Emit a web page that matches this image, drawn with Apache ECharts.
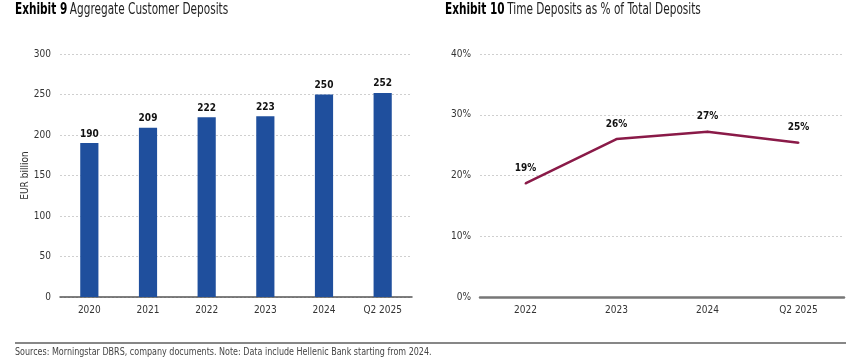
<!DOCTYPE html>
<html>
<head>
<meta charset="utf-8">
<script src="https://cdn.jsdelivr.net/npm/echarts@6/dist/echarts.min.js"></script>
<style>html,body{margin:0;padding:0;background:#fff;}#c{width:848px;height:360px;}</style>
</head>
<body>
<div id="c"></div>
<script>
const barCategories = ['2020', '2021', '2022', '2023', '2024', 'Q2 2025'];
const barValues = [190, 209, 222, 223, 250, 252];
const lineCategories = ['2022', '2023', '2024', 'Q2 2025'];
const lineValues = [18.7, 26.0, 27.2, 25.4];
const barTicks = [0, 50, 100, 150, 200, 250, 300];
const lineTicks = ['0%', '10%', '20%', '30%', '40%'];

const FONT = "'Liberation Sans Narrow', 'DejaVu Sans Condensed', 'Roboto', sans-serif";
const chart = echarts.init(document.getElementById('c'), null, {renderer: 'canvas'});

const axisLabel = {fontFamily: FONT, fontSize: 10, color: '#333'};
const gridLine = {show: true, lineStyle: {type: [2, 2], color: '#cfcfcf', width: 1}};
const titleRich = {b: {fontWeight: 'bold', fontSize: 15, fontFamily: FONT, fill: '#000'}, r: {fontSize: 15, fontFamily: FONT, fill: '#222'}};

chart.setOption({
  animation: false,
  backgroundColor: '#fff',
  graphic: [
    {type: 'text', x: 15, y: 3, scaleX: 0.78, style: {rich: titleRich, text: '{b|Exhibit 9} {r|Aggregate Customer Deposits}'}},
    {type: 'text', x: 445, y: 3, scaleX: 0.78, style: {rich: titleRich, text: '{b|Exhibit 10} {r|Time Deposits as % of Total Deposits}'}},
    {type: 'line', shape: {x1: 15, y1: 343, x2: 846, y2: 343}, style: {stroke: '#111', lineWidth: 1.2}},
    {type: 'text', x: 15, y: 347, scaleX: 0.81, style: {text: 'Sources: Morningstar DBRS, company documents. Note: Data include Hellenic Bank starting from 2024.', fontSize: 11, fontFamily: FONT, fill: '#444'}}
  ],
  grid: [
    {left: 60, right: 436, top: 54, bottom: 63},
    {left: 480, right: 4, top: 54, bottom: 63}
  ],
  xAxis: [
    {type: 'category', gridIndex: 0, data: barCategories, axisTick: {show: false},
     axisLine: {lineStyle: {color: '#555', width: 1.5}}, axisLabel: Object.assign({margin: 8}, axisLabel)},
    {type: 'category', gridIndex: 1, data: lineCategories, axisTick: {show: false},
     axisLine: {lineStyle: {color: '#777', width: 2.5}}, axisLabel: Object.assign({margin: 8}, axisLabel)}
  ],
  yAxis: [
    {type: 'value', gridIndex: 0, min: barTicks[0], max: barTicks[barTicks.length - 1], interval: 50,
     name: 'EUR billion', nameLocation: 'middle', nameGap: 27, nameTextStyle: {fontFamily: FONT, fontSize: 10, color: '#333'},
     axisLine: {show: false}, axisTick: {show: false}, splitLine: gridLine, axisLabel: Object.assign({margin: 9}, axisLabel)},
    {type: 'value', gridIndex: 1, min: 0, max: 40, interval: 10,
     axisLine: {show: false}, axisTick: {show: false}, splitLine: gridLine,
     axisLabel: Object.assign({margin: 9, formatter: v => lineTicks[v / 10]}, axisLabel)}
  ],
  series: [
    {type: 'bar', xAxisIndex: 0, yAxisIndex: 0, data: barValues, barWidth: '31%',
     itemStyle: {color: '#1f4f9d'},
     label: {show: true, position: 'top', distance: 4, fontFamily: FONT, fontWeight: 'bold', fontSize: 10, color: '#111'}},
    {type: 'line', xAxisIndex: 1, yAxisIndex: 1, data: lineValues, symbol: 'circle', symbolSize: 2, showSymbol: true,
     itemStyle: {color: '#8a1a48'},
     lineStyle: {color: '#8a1a48', width: 2.5},
     label: {show: true, position: 'top', distance: 9, fontFamily: FONT, fontWeight: 'bold', fontSize: 10, color: '#111',
             formatter: p => Math.round(p.value) + '%'}}
  ]
});
</script>
</body>
</html>
